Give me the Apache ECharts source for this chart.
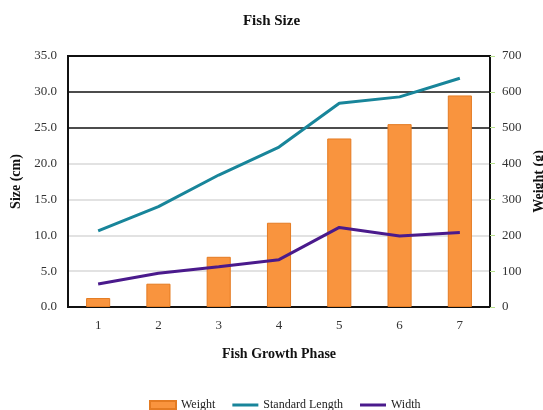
<!DOCTYPE html>
<html>
<head>
<meta charset="utf-8">
<script src="https://cdn.jsdelivr.net/npm/echarts@6/dist/echarts.min.js"></script>
<style>
  html, body { margin: 0; padding: 0; background: #fff; }
  #chart { width: 543px; height: 410px; }
</style>
</head>
<body>
<div id="chart"></div>
<script>
// Growth phases along the x axis
const phases = ['1', '2', '3', '4', '5', '6', '7'];
// Weight in grams (right axis)
const weight = [25, 65, 140, 235, 470, 510, 590];
// Standard length in cm (left axis)
const standardLength = [10.6, 14.0, 18.4, 22.3, 28.4, 29.3, 31.9];
// Body width in cm (left axis)
const width = [3.2, 4.7, 5.6, 6.6, 11.1, 9.9, 10.4];

const serif = 'Liberation Serif';
const lineIcon = 'path://M0,0 H26 V3 H0 Z';
const chart = echarts.init(document.getElementById('chart'));

chart.setOption({
  animation: false,
  backgroundColor: '#fff',
  textStyle: { fontFamily: serif },
  title: {
    text: 'Fish Size',
    left: 'center',
    top: 9,
    textStyle: { fontFamily: serif, fontSize: 15, fontWeight: 'bold', color: '#111' }
  },
  grid: {
    left: 68, right: 53, top: 56, bottom: 103,
    outerBoundsMode: 'none',
    containLabel: false,
    show: true, borderColor: '#111', borderWidth: 2
  },
  legend: {
    bottom: -6,
    left: 144,
    itemWidth: 26,
    itemHeight: 8,
    itemGap: 17,
    textStyle: { fontFamily: serif, fontSize: 12, color: '#222' },
    data: [
      { name: 'Weight', icon: 'rect' },
      { name: 'Standard Length', icon: lineIcon },
      { name: 'Width', icon: lineIcon }
    ]
  },
  xAxis: {
    type: 'category',
    data: phases,
    name: 'Fish Growth Phase',
    nameLocation: 'middle',
    nameGap: 40,
    nameTextStyle: { fontFamily: serif, fontSize: 14, fontWeight: 'bold', color: '#111' },
    axisLine: { lineStyle: { color: '#111', width: 2 } },
    axisTick: { show: false },
    axisLabel: { fontFamily: serif, fontSize: 13, color: '#333', margin: 12 }
  },
  yAxis: [
    {
      type: 'value',
      min: 0, max: 35, interval: 5,
      name: 'Size (cm)',
      nameLocation: 'middle',
      nameRotate: 90,
      nameGap: 42,
      nameTextStyle: { fontFamily: serif, fontSize: 14, fontWeight: 'bold', color: '#111' },
      axisLine: { show: true, lineStyle: { color: '#111', width: 2 } },
      axisTick: { show: false },
      axisLabel: {
        fontFamily: serif, fontSize: 13, color: '#333', margin: 11,
        formatter: v => v.toFixed(1)
      },
      splitLine: {
        show: true,
        lineStyle: {
          color: ['#d9d9d9', '#d9d9d9', '#d9d9d9', '#d9d9d9', '#d9d9d9', '#111', '#111', '#111'],
          width: 1.5
        }
      }
    },
    {
      type: 'value',
      min: 0, max: 700, interval: 100,
      name: 'Weight (g)',
      nameLocation: 'middle',
      nameRotate: 90,
      nameGap: 40,
      nameTextStyle: { fontFamily: serif, fontSize: 14, fontWeight: 'bold', color: '#111' },
      axisLine: { show: true, lineStyle: { color: '#111', width: 2 } },
      axisTick: { show: true, length: 5, lineStyle: { color: '#b8e08e', width: 1 } },
      axisLabel: { fontFamily: serif, fontSize: 13, color: '#333', margin: 12 },
      splitLine: { show: false }
    }
  ],
  series: [
    {
      name: 'Weight',
      type: 'bar',
      yAxisIndex: 1,
      data: weight,
      barWidth: '40%',
      itemStyle: { color: '#f9943e', borderColor: '#e47b22', borderWidth: 1 }
    },
    {
      name: 'Standard Length',
      type: 'line',
      yAxisIndex: 0,
      data: standardLength,
      showSymbol: false,
      symbol: 'none',
      lineStyle: { color: '#18859a', width: 3 },
      itemStyle: { color: '#18859a' }
    },
    {
      name: 'Width',
      type: 'line',
      yAxisIndex: 0,
      data: width,
      showSymbol: false,
      symbol: 'none',
      lineStyle: { color: '#4a1a8c', width: 3 },
      itemStyle: { color: '#4a1a8c' }
    }
  ]
});
</script>
</body>
</html>
